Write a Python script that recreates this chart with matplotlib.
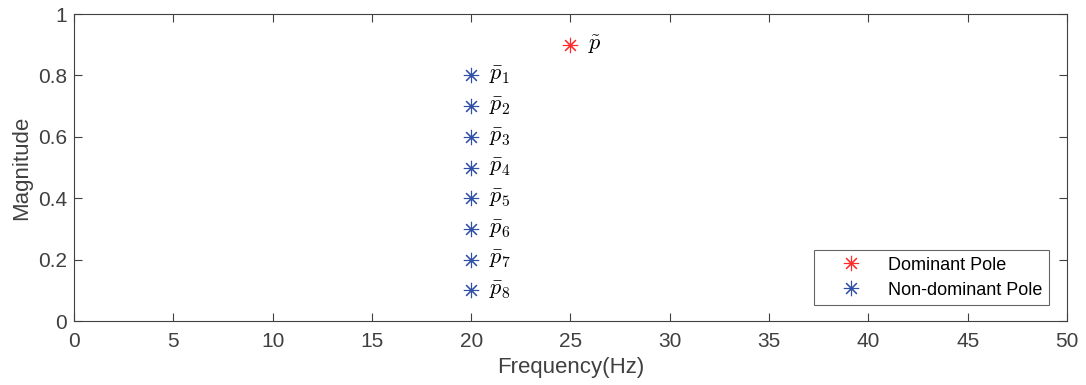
import matplotlib.pyplot as plt

plt.rcParams['font.family'] = ['Liberation Sans', 'DejaVu Sans']
plt.rcParams['mathtext.fontset'] = 'cm'

dominant_freq = [25]
dominant_mag = [0.9]
dominant_label = [r'$\tilde{p}$']

nondom_freq = [20, 20, 20, 20, 20, 20, 20, 20]
nondom_mag = [0.8, 0.7, 0.6, 0.5, 0.4, 0.3, 0.2, 0.1]
nondom_labels = [r'$\bar{p}_%d$' % i for i in range(1, 9)]

red = '#FF2A2A'
blue = '#3050A8'
gray = '#404040'
star = (8, 2, 0)

fig = plt.figure(figsize=(10.86, 3.85), dpi=100)
ax = fig.add_axes([0.0681, 0.1662, 0.9144, 0.7974])

ax.plot(dominant_freq, dominant_mag, linestyle='none', marker=star, color=red,
        markersize=11, markeredgewidth=0.8, label='Dominant Pole')
ax.plot(nondom_freq, nondom_mag, linestyle='none', marker=star, color=blue,
        markersize=11, markeredgewidth=0.8, label='Non-dominant Pole')

for f, m, t in zip(dominant_freq, dominant_mag, dominant_label):
    ax.text(f + 0.9, m, t, fontsize=16, va='center', ha='left')
for f, m, t in zip(nondom_freq, nondom_mag, nondom_labels):
    ax.text(f + 0.9, m, t, fontsize=16, va='center', ha='left')

ax.set_xlim(0, 50)
ax.set_ylim(0, 1)
ax.set_xticks(range(0, 51, 5))
ax.set_yticks([0, 0.2, 0.4, 0.6, 0.8, 1])
ax.set_yticklabels(['0', '0.2', '0.4', '0.6', '0.8', '1'])
ax.tick_params(direction='in', length=6, width=0.8, colors=gray, labelsize=15,
               top=True, right=True, labeltop=False, labelright=False)
ax.tick_params(axis='x', pad=8)
ax.tick_params(axis='y', pad=5)
for s in ax.spines.values():
    s.set_color(gray)
    s.set_linewidth(0.8)

ax.set_xlabel('Frequency(Hz)', fontsize=16, color=gray, labelpad=4)
ax.set_ylabel('Magnitude', fontsize=16, color=gray, labelpad=4)

leg = ax.legend(loc='lower right', bbox_to_anchor=(0.982, 0.052), borderaxespad=0,
                fontsize=13, frameon=True, fancybox=False, edgecolor=gray,
                handletextpad=0.35, handlelength=3.4, borderpad=0.35,
                labelspacing=0.45)
leg.get_frame().set_linewidth(0.8)

fig.savefig('out.png', dpi=100)
